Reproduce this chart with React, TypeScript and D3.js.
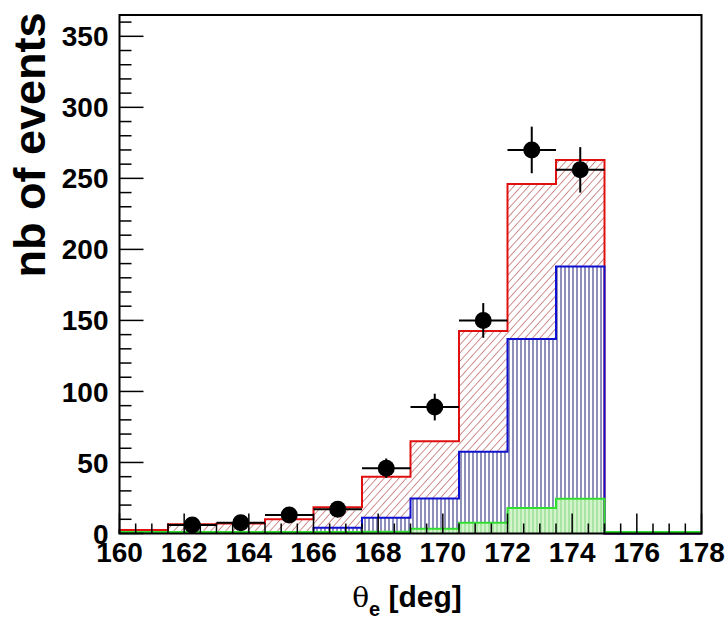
import React, { useEffect, useRef } from 'react';
import * as d3 from 'd3';

// bin lower edges (deg), width 1.5
const binLow = [160, 161.5, 163, 164.5, 166, 167.5, 169, 170.5, 172, 173.5, 175, 176.5];
const binWidth = 1.5;

// stacked simulation histograms
const totalMC = [2.5, 6.5, 7, 10, 18.5, 40, 65, 142.5, 246, 263, 0, 0];
const blueMC = [1, 1, 1, 1, 4, 11, 24.6, 57.5, 137, 188, 0, 0];
const greenMC = [1, 1, 1, 1, 1, 1.2, 3.3, 7.5, 18, 24.4, 1, 1];

// data points
const dataX = [162.25, 163.75, 165.25, 166.75, 168.25, 169.75, 171.25, 172.75, 174.25];
const dataY = [6, 7.5, 13, 17, 46, 89, 150, 270, 256];
const dataErr = [2.5, 2.7, 3.6, 4.1, 6.8, 9.4, 12.2, 16.4, 16];

const xTicks = [160, 162, 164, 166, 168, 170, 172, 174, 176, 178];
const yTicks = [0, 50, 100, 150, 200, 250, 300, 350];

const W = 728;
const H = 620;
const frame = { left: 119.5, right: 701.5, top: 15, bottom: 533.5 };
const font = "'Liberation Sans', Arial, Helvetica, sans-serif";

const App = () => {
  const ref = useRef<SVGSVGElement>(null);

  useEffect(() => {
    const svg = d3.select(ref.current);
    svg.selectAll('*').remove();

    const x = d3.scaleLinear().domain([160, 178]).range([frame.left, frame.right]);
    const y = d3.scaleLinear().domain([0, 365]).range([frame.bottom, frame.top]);

    const defs = svg.append('defs');
    // red diagonal hatch
    const pr = defs.append('pattern').attr('id', 'hRed').attr('patternUnits', 'userSpaceOnUse')
      .attr('width', 5.5).attr('height', 5.5).attr('patternTransform', 'rotate(42)');
    pr.append('rect').attr('width', 5.5).attr('height', 5.5).attr('fill', '#fff');
    pr.append('line').attr('x1', 0).attr('y1', 0).attr('x2', 0).attr('y2', 5.5)
      .attr('stroke', '#a83434').attr('stroke-width', 1.1);
    // blue vertical hatch
    const pb = defs.append('pattern').attr('id', 'hBlue').attr('patternUnits', 'userSpaceOnUse')
      .attr('width', 4).attr('height', 4);
    pb.append('rect').attr('width', 4).attr('height', 4).attr('fill', '#fff');
    pb.append('line').attr('x1', 1).attr('y1', 0).attr('x2', 1).attr('y2', 4)
      .attr('stroke', '#20207a').attr('stroke-width', 1);
    // green vertical hatch
    const pg = defs.append('pattern').attr('id', 'hGreen').attr('patternUnits', 'userSpaceOnUse')
      .attr('width', 4).attr('height', 4);
    pg.append('rect').attr('width', 4).attr('height', 4).attr('fill', '#d4f5cc');
    pg.append('line').attr('x1', 1).attr('y1', 0).attr('x2', 1).attr('y2', 4)
      .attr('stroke', '#7fd47f').attr('stroke-width', 1);

    const stepPts = (vals: number[]) => {
      const pts: [number, number][] = [[x(binLow[0]), y(0)]];
      vals.forEach((v, i) => {
        pts.push([x(binLow[i]), y(v)]);
        pts.push([x(binLow[i] + binWidth), y(v)]);
      });
      pts.push([x(binLow[binLow.length - 1] + binWidth), y(0)]);
      return pts;
    };
    const line = d3.line();

    const hists = [
      { vals: totalMC, fill: 'url(#hRed)', stroke: '#e01010' },
      { vals: blueMC, fill: 'url(#hBlue)', stroke: '#1010d0' },
      { vals: greenMC, fill: 'url(#hGreen)', stroke: '#30e030' },
    ];
    hists.forEach(h => {
      svg.append('path').attr('d', line(stepPts(h.vals)) + 'Z').attr('fill', h.fill).attr('stroke', 'none');
    });
    hists.forEach(h => {
      svg.append('path').attr('d', line(stepPts(h.vals))).attr('fill', 'none')
        .attr('stroke', h.stroke).attr('stroke-width', 2);
    });

    // data points
    const g = svg.append('g');
    dataX.forEach((dx, i) => {
      g.append('line').attr('x1', x(dx - binWidth / 2)).attr('x2', x(dx + binWidth / 2))
        .attr('y1', y(dataY[i])).attr('y2', y(dataY[i])).attr('stroke', '#000').attr('stroke-width', 2);
      g.append('line').attr('x1', x(dx)).attr('x2', x(dx))
        .attr('y1', y(dataY[i] - dataErr[i])).attr('y2', y(dataY[i] + dataErr[i]))
        .attr('stroke', '#000').attr('stroke-width', 2);
      g.append('circle').attr('cx', x(dx)).attr('cy', y(dataY[i])).attr('r', 8.5).attr('fill', '#000');
    });

    // frame
    svg.append('rect').attr('x', frame.left).attr('y', frame.top)
      .attr('width', frame.right - frame.left).attr('height', frame.bottom - frame.top)
      .attr('fill', 'none').attr('stroke', '#000').attr('stroke-width', 2);

    // y ticks
    const yt = svg.append('g');
    d3.range(0, 361, 10).forEach(v => {
      const major = v % 50 === 0;
      yt.append('line').attr('x1', frame.left).attr('x2', frame.left + (major ? 24 : 12))
        .attr('y1', y(v)).attr('y2', y(v)).attr('stroke', '#000').attr('stroke-width', 1.5);
    });
    yTicks.forEach(v => {
      yt.append('text').attr('x', frame.left - 11).attr('y', y(v)).attr('dy', '0.36em')
        .attr('text-anchor', 'end').attr('font-family', font).attr('font-weight', 'bold')
        .attr('font-size', 28).text(v);
    });

    // x ticks
    const xt = svg.append('g');
    d3.range(160, 178.01, 0.5).forEach(v => {
      const major = Math.abs(v % 2) < 1e-6;
      xt.append('line').attr('x1', x(v)).attr('x2', x(v))
        .attr('y1', frame.bottom).attr('y2', frame.bottom - (major ? 20 : 10))
        .attr('stroke', '#000').attr('stroke-width', 1.5);
    });
    xTicks.forEach(v => {
      xt.append('text').attr('x', x(v)).attr('y', 562).attr('text-anchor', 'middle')
        .attr('font-family', font).attr('font-weight', 'bold').attr('font-size', 28).text(v);
    });

    // axis titles
    svg.append('text').attr('transform', 'translate(45,145) rotate(-90)').attr('text-anchor', 'middle')
      .attr('font-family', font).attr('font-weight', 'bold').attr('font-size', 45).text('nb of events');

    const xt2 = svg.append('text').attr('x', 407).attr('y', 607).attr('text-anchor', 'middle')
      .attr('font-family', font).attr('font-size', 30);
    xt2.append('tspan').attr('font-family', "'DejaVu Serif', 'Liberation Serif', serif").attr('font-size', 28).text('θ');
    xt2.append('tspan').attr('font-weight', 'bold').attr('font-size', 20).attr('dy', 9).text('e');
    xt2.append('tspan').attr('font-weight', 'bold').attr('dy', -9).text(' [deg]');
  }, []);

  return (
    <svg ref={ref} width={W} height={H}
      style={{ position: 'absolute', left: 0, top: 0, background: '#fff' }} />
  );
};

export default App;
